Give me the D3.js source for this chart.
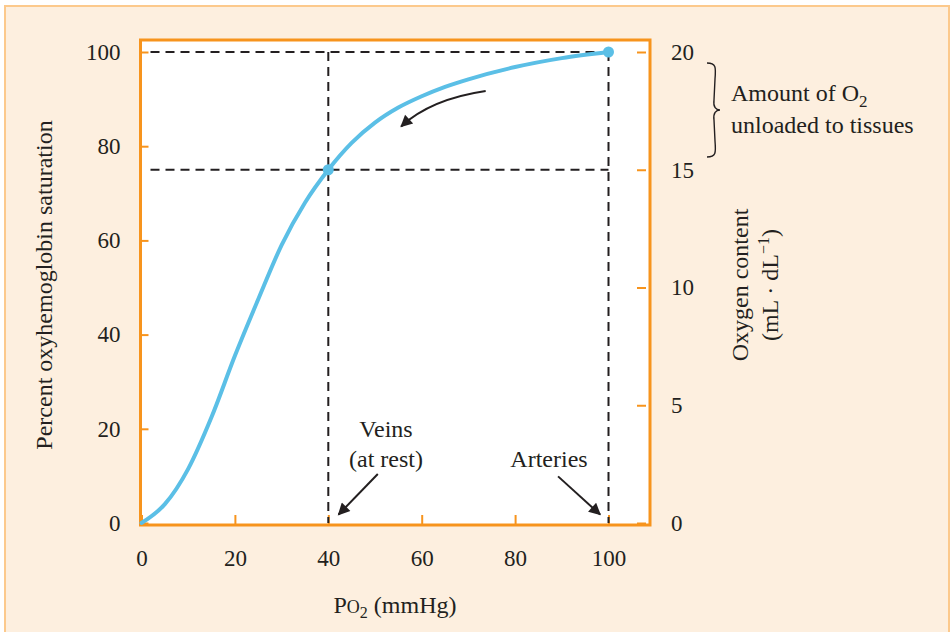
<!DOCTYPE html>
<html>
<head>
<meta charset="utf-8">
<script src="https://cdn.jsdelivr.net/npm/d3@7/dist/d3.min.js"></script>
<style>
  body { margin: 0; background: #fff; }
  svg { display: block; font-family: 'Liberation Serif', 'DejaVu Serif', serif; }
</style>
</head>
<body>
<div id="chart"></div>
<script>
// Oxyhemoglobin dissociation curve
const po2 = [0, 5, 10, 15, 20, 25, 30, 35, 40, 45, 50, 55, 60, 65, 70, 80, 90, 100];
const saturation = [0, 4, 11.5, 22.5, 35.5, 47.5, 59, 68, 75, 80.7, 85, 88.2, 90.6, 92.6, 94.2, 96.8, 98.7, 100];

const xTicks = [0, 20, 40, 60, 80, 100];
const yTicks = [0, 20, 40, 60, 80, 100];
const contentTicks = [0, 5, 10, 15, 20];

const veins = { x: 40, y: 75 };
const arteries = { x: 100, y: 100 };

const W = 952, H = 632;
const ORANGE = '#f7941d';
const INK = '#231f20';
const BLUE = '#5bbfe6';
const TICK_FS = '23px';
const LABEL_FS = '24px';

const svg = d3.select('#chart').append('svg')
  .attr('width', W).attr('height', H);

svg.append('defs').append('marker')
  .attr('id', 'head')
  .attr('viewBox', '0 0 10 10')
  .attr('refX', 9).attr('refY', 5)
  .attr('markerWidth', 7).attr('markerHeight', 6)
  .attr('markerUnits', 'strokeWidth')
  .attr('orient', 'auto')
  .append('path').attr('d', 'M0,0 L10,5 L0,10 z').attr('fill', INK);

// panel background
svg.append('rect')
  .attr('x', 5).attr('y', 6).attr('width', W - 8).attr('height', H - 4)
  .attr('fill', '#fdefdf').attr('stroke', '#fcc98c').attr('stroke-width', 2);

const x = d3.scaleLinear().domain([0, 100]).range([141.5, 608.5]);
const y = d3.scaleLinear().domain([0, 100]).range([523, 52]);
const yR = d3.scaleLinear().domain([0, 20]).range([523, 52]);

const frame = { left: 140.5, right: 650, top: 40, bottom: 525 };

svg.append('rect')
  .attr('x', frame.left).attr('y', frame.top)
  .attr('width', frame.right - frame.left).attr('height', frame.bottom - frame.top)
  .attr('fill', '#fff');

// axes
const styleAxis = g => {
  g.select('.domain').remove();
  g.selectAll('.tick line').attr('stroke', ORANGE).attr('stroke-width', 2);
  g.selectAll('.tick text').attr('fill', INK).style('font-size', TICK_FS)
    .style('font-family', "'Liberation Serif', serif");
};

svg.append('g')
  .attr('transform', `translate(${frame.left},0)`)
  .call(d3.axisLeft(y).tickValues(yTicks).tickSize(-8).tickPadding(20))
  .call(styleAxis);

svg.append('g')
  .attr('transform', `translate(646,0)`)
  .call(d3.axisRight(yR).tickValues(contentTicks).tickSize(-9).tickPadding(25))
  .call(styleAxis);

svg.append('g')
  .attr('transform', `translate(0,${frame.bottom})`)
  .call(d3.axisBottom(x).tickValues(xTicks).tickSize(-10).tickPadding(25))
  .call(styleAxis);

// dashed reference lines
const dash = svg.append('g')
  .attr('stroke', INK).attr('stroke-width', 2).attr('stroke-dasharray', '9,6').attr('fill', 'none');
[[0, arteries.y, arteries.x, arteries.y], [0, veins.y, arteries.x, veins.y]].forEach(d => {
  dash.append('line').attr('x1', x(d[0]) + 9).attr('x2', x(d[2])).attr('y1', y(d[1])).attr('y2', y(d[3]));
});
[veins.x, arteries.x].forEach(v => {
  dash.append('line').attr('x1', x(v)).attr('x2', x(v)).attr('y1', y(100)).attr('y2', y(0));
});

// frame on top
svg.append('rect')
  .attr('x', frame.left).attr('y', frame.top)
  .attr('width', frame.right - frame.left).attr('height', frame.bottom - frame.top)
  .attr('fill', 'none').attr('stroke', ORANGE).attr('stroke-width', 3);

// curve
const line = d3.line().x(d => x(d[0])).y(d => y(d[1])).curve(d3.curveMonotoneX);
svg.append('path')
  .datum(po2.map((p, i) => [p, saturation[i]]))
  .attr('d', line)
  .attr('fill', 'none').attr('stroke', BLUE).attr('stroke-width', 4).attr('stroke-linecap', 'round');

svg.selectAll('circle.pt').data([veins, arteries]).join('circle')
  .attr('class', 'pt')
  .attr('cx', d => x(d.x)).attr('cy', d => y(d.y)).attr('r', 5.5)
  .attr('fill', BLUE);

// arrows
const arrows = svg.append('g').attr('stroke', INK).attr('stroke-width', 2).attr('fill', 'none');
arrows.append('path')
  .attr('d', `M${x(73.7)},${y(91.7)} Q${x(62)},${y(90)} ${x(55.6)},${y(84.2)}`)
  .attr('marker-end', 'url(#head)');
arrows.append('line')
  .attr('x1', x(50.6)).attr('y1', y(10.4)).attr('x2', x(42.2)).attr('y2', y(1.8))
  .attr('marker-end', 'url(#head)');
arrows.append('line')
  .attr('x1', x(89.2)).attr('y1', y(9.9)).attr('x2', x(98.2)).attr('y2', y(1.8))
  .attr('marker-end', 'url(#head)');

// labels
const txt = (xx, yy, s, anchor = 'middle') => svg.append('text')
  .attr('x', xx).attr('y', yy).attr('text-anchor', anchor)
  .attr('fill', INK).style('font-size', LABEL_FS).text(s);

txt(386, 437, 'Veins');
txt(386, 467, '(at rest)');
txt(549, 467, 'Arteries');

const amt = txt(731, 101, 'Amount of O', 'start');
amt.append('tspan').attr('dy', 6).style('font-size', '17px').text('2');
txt(731, 133, 'unloaded to tissues', 'start');

// brace
const bx = 707, by0 = 63, by1 = 157, bm = (by0 + by1) / 2;
svg.append('path')
  .attr('d', `M${bx},${by0} C${bx + 9},${by0} ${bx + 9},${by0 + 4} ${bx + 8},${by0 + 16}
    L${bx + 7},${bm - 10} C${bx + 6},${bm - 3} ${bx + 9},${bm} ${bx + 13},${bm}
    C${bx + 9},${bm} ${bx + 6},${bm + 3} ${bx + 7},${bm + 10}
    L${bx + 8},${by1 - 16} C${bx + 9},${by1 - 4} ${bx + 9},${by1} ${bx},${by1}`)
  .attr('fill', 'none').attr('stroke', INK).attr('stroke-width', 1.4);

// axis titles
svg.append('text')
  .attr('transform', 'translate(52,285) rotate(-90)')
  .attr('text-anchor', 'middle').attr('fill', INK).style('font-size', LABEL_FS)
  .text('Percent oxyhemoglobin saturation');

const rt = svg.append('g').attr('transform', 'translate(748,285) rotate(-90)');
rt.append('text').attr('text-anchor', 'middle').attr('fill', INK).style('font-size', LABEL_FS)
  .text('Oxygen content');
const unit = rt.append('text').attr('y', 30).attr('text-anchor', 'middle').attr('fill', INK).style('font-size', LABEL_FS);
unit.append('tspan').text('(mL · dL');
unit.append('tspan').attr('dy', -9).style('font-size', '16px').text('−1');
unit.append('tspan').attr('dy', 9).text(')');

const xt = svg.append('text').attr('x', 395).attr('y', 613).attr('text-anchor', 'middle')
  .attr('fill', INK).style('font-size', LABEL_FS);
xt.append('tspan').text('P');
xt.append('tspan').style('font-size', '18px').text('O');
xt.append('tspan').attr('dy', 5).style('font-size', '16px').text('2');
xt.append('tspan').attr('dy', -5).text(' (mmHg)');
</script>
</body>
</html>
